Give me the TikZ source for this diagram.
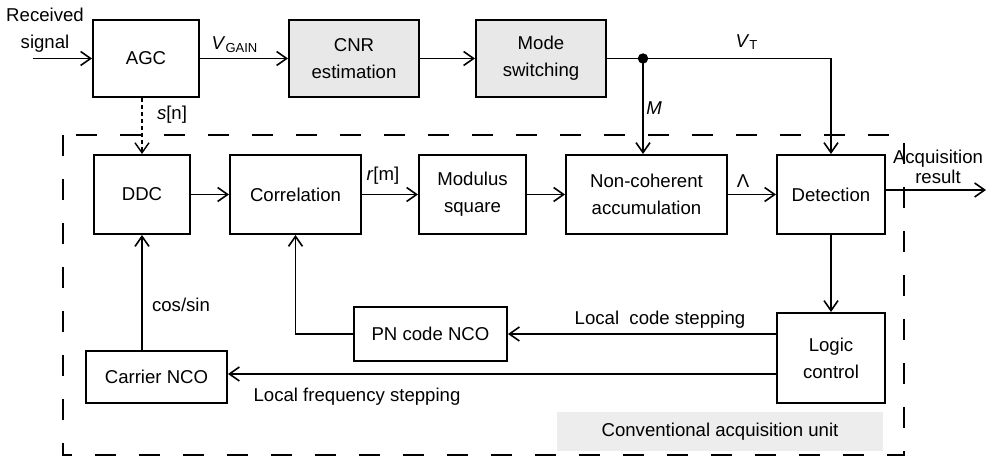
\documentclass[tikz,border=0pt]{standalone}
\usepackage{fontspec}
\setmainfont{Liberation Sans}
\usetikzlibrary{arrows.meta}

\begin{document}
\begin{tikzpicture}[x=0.5pt,y=-0.5pt,font=\fontsize{9.3}{13.6}\selectfont]
	\tikzstyle{box}=[rectangle,draw,line width=1pt,inner sep=0pt,align=center]
	\tikzstyle{graybox}=[box,fill=black!9]
	\tikzstyle{sig}=[line width=0.8pt,-{Straight Barb[length=5pt,width=7pt]}]
	\tikzstyle{wire}=[line width=0.8pt]
	\tikzstyle{frame}=[line width=1pt,dash pattern=on 10.5pt off 11.5pt]
	\useasboundingbox (0,0) rectangle (986,459);
	\node (unit)   at (720,432)   [fill=black!7,minimum width=163pt,minimum height=19.5pt] {Conventional acquisition unit};
	\draw [frame] (63,135) rectangle (904,455);
	\node (rx)     at (45,30)     [align=center] {Received\\signal};
	\node (agc)    at (146,58.5)  [box,minimum width=53pt,minimum height=38.5pt] {AGC};
	\node (cnr)    at (354,58.5)  [graybox,minimum width=65pt,minimum height=38.5pt] {CNR\\estimation};
	\node (mode)   at (541,58.5)  [graybox,minimum width=65pt,minimum height=38.5pt] {Mode\\switching};
	\node (ddc)    at (142,194.5) [box,minimum width=48pt,minimum height=39.5pt] {DDC};
	\node (corr)   at (295.5,194.5) [box,minimum width=65.5pt,minimum height=39.5pt] {Correlation};
	\node (mod)    at (472.5,194.5) [box,minimum width=53.5pt,minimum height=39.5pt] {Modulus\\square};
	\node (ncoh)   at (646.5,194.5) [box,minimum width=80.5pt,minimum height=39.5pt] {Non-coherent\\accumulation};
	\node (det)    at (831,194.5) [box,minimum width=54pt,minimum height=39.5pt] {Detection};
	\node (logic)  at (831,358)   [box,minimum width=54pt,minimum height=45pt] {Logic\\control};
	\node (pnnco)  at (430.5,334) [box,minimum width=76.5pt,minimum height=27pt] {PN code NCO};
	\node (carnco) at (156.5,377) [box,minimum width=70.5pt,minimum height=26pt] {Carrier NCO};
	\coordinate (rxin)  at (33,58.5);
	\coordinate (split) at (643,58.5);
	\coordinate (out)   at (986,190);
	\draw [sig] (rxin) -- (agc);
	\draw [sig] (agc) -- (cnr);
	\draw [sig] (cnr) -- (mode);
	\draw [wire] (mode) -- (split);
	\fill (split) circle (2.6pt);
	\draw [sig] (split) -- (split |- ncoh.north);
	\draw [sig] (split) -| (det.north);
	\draw [sig,line width=0.7pt,dash pattern=on 2pt off 1.5pt] (ddc.north |- agc.south) -- (ddc.north);
	\draw [sig] (ddc) -- (corr);
	\draw [sig] (corr) -- (mod);
	\draw [sig] (mod) -- (ncoh);
	\draw [sig] (ncoh) -- (det);
	\draw [sig] (det.east |- out) -- (out);
	\draw [sig] (det) -- (logic);
	\draw [sig] (logic.west |- pnnco) -- (pnnco);
	\draw [sig] (pnnco) -| (corr);
	\draw [sig] (logic.west |- 0,374) -- (carnco.east |- 0,374);
	\draw [sig] (ddc.south |- carnco.north) -- (ddc.south);
	\node (vgain)    at (235,45)  {\textit{V}\textsubscript{GAIN}};
	\node (sn)       at (172,115) {\textit{s}[n]};
	\node (mlbl)     at (654,108) {\textit{M}};
	\node (vt)       at (747,42)  {\textit{V}\textsubscript{T}};
	\node (rm)       at (383,176) {\textit{r}[m]};
	\node (lam)      at (743,181) {Λ};
	\node (cossin)   at (145,305) [anchor=west] {cos/sin};
	\node (codestep) at (660,320) {Local\ \ code stepping};
	\node (freqstep) at (357,397) {Local frequency stepping};
	\node (acq)      at (938,167) [align=center,font=\fontsize{9.3}{10}\selectfont] {Acquisition\\result};
\end{tikzpicture}
\end{document}
